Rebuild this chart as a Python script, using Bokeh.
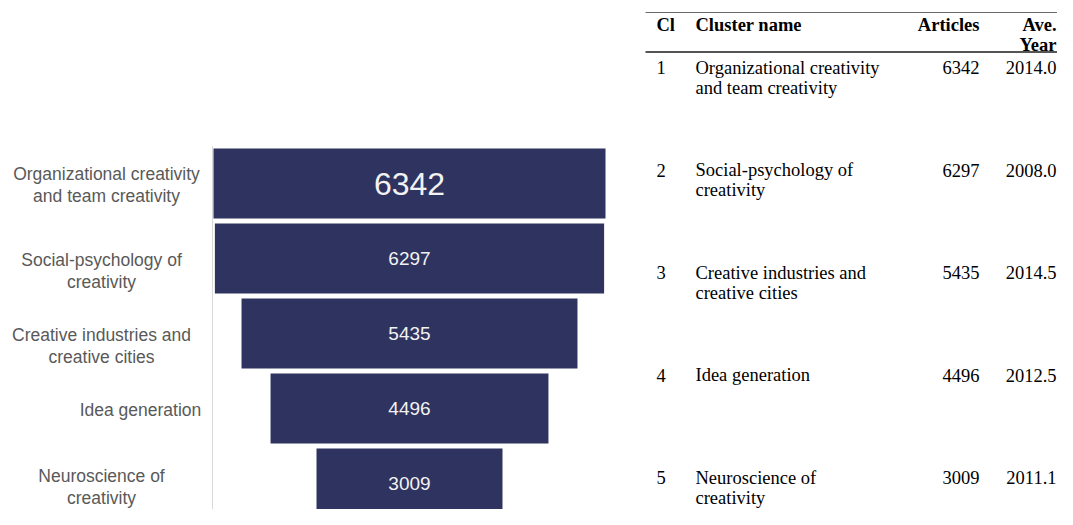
from bokeh.plotting import figure
from bokeh.layouts import row
from bokeh.models import Range1d, ColumnDataSource
from bokeh.embed import file_html
from bokeh.resources import INLINE
from bokeh.core.properties import value

# ---------------- data ----------------
cluster_ids = ["1", "2", "3", "4", "5"]
cluster_labels = [
    "Organizational creativity\nand team creativity",
    "Social-psychology of\ncreativity",
    "Creative industries and\ncreative cities",
    "Idea generation",
    "Neuroscience of\ncreativity",
]
table_names = [
    "Organizational creativity\nand team creativity",
    "Social-psychology of\ncreativity",
    "Creative industries and\ncreative cities",
    "Idea generation",
    "Neuroscience of\ncreativity",
]
articles = [6342, 6297, 5435, 4496, 3009]
ave_year = [2014.0, 2008.0, 2014.5, 2012.5, 2011.1]
header_cols = ["Cl", "Cluster name", "Articles", "Ave.", "Year"]

# ---------------- layout / style ----------------
H = 509
W1, W2 = 628, 429
BAR_COLOR = "#2F335F"
LABEL_COLOR = "#595959"
SANS = "Liberation Sans"
SERIF = "Liberation Serif"

# funnel geometry (pixels)
center_px = 409
max_bar_px = 392
row_px = 75
first_row_px = 183
bar_h_px = 70
axis_px = 212
label_dx_px = [-106, -111, -111, -72, -111]
label_first_dy_px = [-10, 1, 1, 1, -8]
label_gap_px = 22
value_sizes = ["32px", "19px", "19px", "19px", "19px"]

k = max_bar_px / max(articles)
p = figure(width=W1, height=H, output_backend="svg", toolbar_location=None,
           x_range=Range1d(-center_px / k, (W1 - center_px) / k),
           y_range=Range1d((H - first_row_px) / row_px, -first_row_px / row_px),
           min_border=0, outline_line_color=None)
p.axis.visible = False
p.grid.visible = False

idx = list(range(len(articles)))
p.hbar(y=idx, left=[-a / 2 for a in articles], right=[a / 2 for a in articles],
       height=bar_h_px / row_px, fill_color=BAR_COLOR, line_color=None)

axis_x = (axis_px - center_px) / k
p.segment(x0=[axis_x], y0=[-0.5], x1=[axis_x], y1=[len(articles) - 0.4],
          line_color="#d9d9d9", line_width=1)

vsrc = ColumnDataSource(dict(x=[0] * len(articles), y=idx,
                             t=[str(a) for a in articles], fs=value_sizes))
p.text(x="x", y="y", text="t", text_font_size="fs", source=vsrc,
       text_align="center", text_baseline="middle", text_color="#F2F2F2",
       text_font=value(SANS))

lx, ly, lt = [], [], []
for i, lab in enumerate(cluster_labels):
    for j, line in enumerate(lab.split("\n")):
        lx.append((axis_px + label_dx_px[i] - center_px) / k)
        ly.append(i + (label_first_dy_px[i] + j * label_gap_px) / row_px)
        lt.append(line)
p.text(x=lx, y=ly, text=lt, text_align="center", text_baseline="middle",
       text_color=LABEL_COLOR, text_font=value(SANS), text_font_size="17.5px")

# ---------------- table ----------------
t_first_px = 67
t_row_px = 102.5
t_line_px = 20
cl_x, name_x, art_r, year_r = 28, 67, 351, 428

t = figure(width=W2, height=H, output_backend="svg", toolbar_location=None,
           x_range=Range1d(0, W2),
           y_range=Range1d((H - t_first_px) / t_row_px, -t_first_px / t_row_px),
           min_border=0, outline_line_color=None)
t.axis.visible = False
t.grid.visible = False

def ty(px):
    return (px - t_first_px) / t_row_px

# rules
t.segment(x0=[17], y0=[ty(12)], x1=[W2], y1=[ty(12)], line_color="#6b6b6b", line_width=1)
t.segment(x0=[17], y0=[ty(51.5)], x1=[W2], y1=[ty(51.5)], line_color="#555555", line_width=2)

hdr_font = dict(text_font=value(SERIF), text_font_size="18.5px", text_font_style="bold",
                text_color="#000000", text_baseline="middle")
t.text(x=[cl_x, name_x], y=[ty(24), ty(24)], text=header_cols[:2], text_align="left", **hdr_font)
t.text(x=[art_r, year_r, year_r], y=[ty(24), ty(24), ty(44)], text=header_cols[2:],
       text_align="right", **hdr_font)

body_font = dict(text_font=value(SERIF), text_font_size="18.5px", text_color="#000000",
                 text_baseline="middle")
t.text(x=[cl_x] * len(cluster_ids), y=idx, text=cluster_ids, text_align="left", **body_font)
nx, ny, nt = [], [], []
for i, nm in enumerate(table_names):
    for j, line in enumerate(nm.split("\n")):
        nx.append(name_x)
        ny.append(i + j * t_line_px / t_row_px)
        nt.append(line)
t.text(x=nx, y=ny, text=nt, text_align="left", **body_font)
t.text(x=[art_r] * len(articles), y=idx, text=[str(a) for a in articles],
       text_align="right", **body_font)
t.text(x=[year_r] * len(ave_year), y=idx, text=[f"{v:.1f}" for v in ave_year],
       text_align="right", **body_font)

layout = row(p, t)
open("out.html", "w").write(file_html(layout, INLINE))
